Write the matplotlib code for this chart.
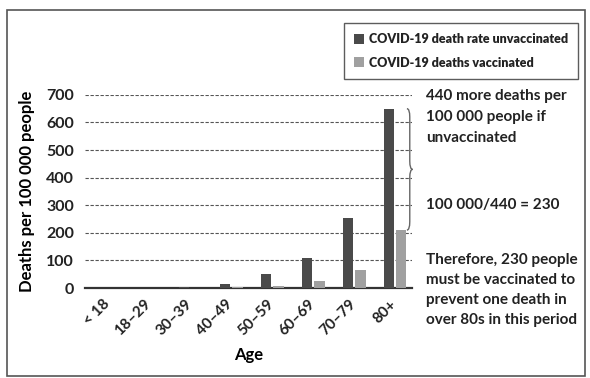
import matplotlib
matplotlib.use("Agg")
import matplotlib.pyplot as plt
from matplotlib.patches import Rectangle, PathPatch
from matplotlib.path import Path
import numpy as np

plt.rcParams["font.family"] = ["Lato", "DejaVu Sans"]

ages = ["< 18", "18–29", "30–39", "40–49", "50–59", "60–69", "70–79", "80+"]
unvaccinated = [0, 1, 4, 15, 50, 110, 255, 650]
vaccinated = [0, 0, 1, 3, 8, 25, 65, 210]
y_ticks = [0, 100, 200, 300, 400, 500, 600, 700]

note_top = "440 more deaths per\n100 000 people if\nunvaccinated"
note_mid = "100 000/440 = 230"
note_bottom = "Therefore, 230 people\nmust be vaccinated to\nprevent one death in\nover 80s in this period"

fig = plt.figure(figsize=(5.9, 3.78), dpi=100)
ax = fig.add_axes([0.144, 0.238, 0.554, 0.511])

x = np.arange(len(ages))
w = 0.26
ax.bar(x - 0.14, unvaccinated, width=w, color="#4a4a4a", zorder=3,
       label="COVID-19 death rate unvaccinated")
ax.bar(x + 0.16, vaccinated, width=w, color="#a0a0a0", zorder=3,
       label="COVID-19 deaths vaccinated")

ax.set_xlim(-0.56, 7.42)
ax.set_ylim(0, 700)
ax.set_yticks(y_ticks)
ax.set_yticklabels([str(t) for t in y_ticks], fontsize=11.5, fontweight="bold", color="#222222")
ax.set_xticks(x)
ax.set_xticklabels(ages, rotation=45, fontsize=11, fontweight="bold", color="#222222",
                   ha="right", va="center", rotation_mode="anchor")
ax.tick_params(axis="y", length=0, pad=8)
ax.tick_params(axis="x", length=0, pad=10)
ax.yaxis.grid(True, linestyle=(0, (3, 1.5)), color="#555555", linewidth=0.8, zorder=0)
for s in ["left", "right", "top"]:
    ax.spines[s].set_visible(False)
ax.spines["bottom"].set_color("#333333")
ax.spines["bottom"].set_linewidth(1.6)
ax.set_ylabel("Deaths per 100 000 people", fontsize=12, fontweight="bold", labelpad=8)
ax.set_xlabel("Age", fontsize=12, fontweight="bold", labelpad=6)

# curly brace between the two 80+ bars
bx = 7.3
y0, y1 = vaccinated[-1], unvaccinated[-1]
ym = (y0 + y1) / 2
d = 0.07
verts = [(bx, y1), (bx + d, y1), (bx + d, y1 - 30),
         (bx + d, ym + 30), (bx + d, ym), (bx + 2 * d, ym),
         (bx + d, ym), (bx + d, ym - 30),
         (bx + d, y0 + 30), (bx + d, y0), (bx, y0)]
codes = [Path.MOVETO, Path.CURVE3, Path.CURVE3,
         Path.LINETO, Path.CURVE3, Path.CURVE3,
         Path.CURVE3, Path.CURVE3,
         Path.LINETO, Path.CURVE3, Path.CURVE3]
ax.add_patch(PathPatch(Path(verts, codes), facecolor="none", edgecolor="#666666",
                       linewidth=1.0, clip_on=False, zorder=4))

note_style = dict(fontsize=11, ha="left", color="#222222", fontweight="bold")
fig.text(0.722, 0.765, note_top, va="top", linespacing=1.65, **note_style)
fig.text(0.722, 0.458, note_mid, va="center", **note_style)
fig.text(0.722, 0.33, note_bottom, va="top", linespacing=1.55, **note_style)

leg = fig.legend(loc="upper right", bbox_to_anchor=(0.99, 0.955),
                 prop={"size": 9, "weight": "heavy"},
                 frameon=True, fancybox=False, edgecolor="#333333", handlelength=0.8,
                 handleheight=0.8, handletextpad=0.4, borderpad=0.8, labelspacing=0.9)
leg.get_frame().set_linewidth(1.0)
for t in leg.get_texts():
    t.set_color("#222222")

fig.patches.append(Rectangle((0.012, 0.005), 0.98, 0.968, transform=fig.transFigure,
                             fill=False, edgecolor="#555555", linewidth=1.2))

fig.savefig("out.png", dpi=100)
